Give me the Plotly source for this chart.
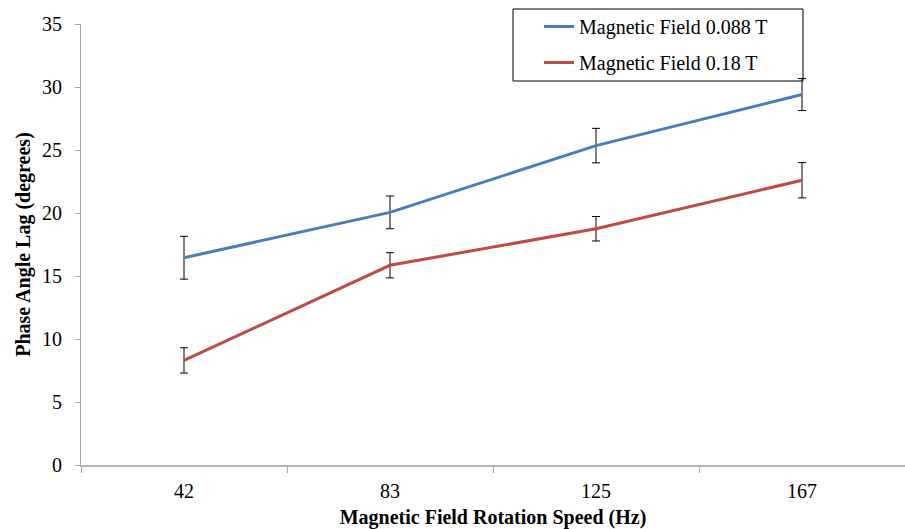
import plotly.graph_objects as go

categories = ["42", "83", "125", "167"]
field_0088 = [16.45, 20.05, 25.35, 29.4]
err_0088 = [1.7, 1.3, 1.37, 1.27]
field_018 = [8.3, 15.85, 18.75, 22.6]
err_018 = [1.0, 1.0, 0.97, 1.4]
series_names = ["Magnetic Field 0.088 T", "Magnetic Field 0.18 T"]
y_ticks = [0, 5, 10, 15, 20, 25, 30, 35]

FONT = "Liberation Serif"

fig = go.Figure()
fig.add_trace(go.Scatter(
    x=categories, y=field_0088, mode="lines", name=series_names[0],
    line=dict(color="#4a7ebb", width=3), legendgroup="a",
    error_y=dict(type="data", array=err_0088, visible=True,
                 color="#000000", thickness=1, width=4),
))
fig.add_trace(go.Scatter(
    x=categories, y=field_018, mode="lines", name=series_names[1],
    line=dict(color="#be4b48", width=3), legendgroup="b",
    error_y=dict(type="data", array=err_018, visible=True,
                 color="#000000", thickness=1, width=4),
))

W, H = 905, 529
L, R, T, B = 81, 0, 24, 64
pw, ph = W - L - R, H - T - B

def px_x(x):
    return (x - L) / pw

def px_y(y):
    return (H - B - y) / ph

fig.add_shape(type="rect", xref="paper", yref="paper",
              x0=px_x(513), x1=px_x(803), y0=px_y(81), y1=px_y(9),
              line=dict(color="#000000", width=1), fillcolor="rgba(0,0,0,0)")

fig.update_layout(
    width=W, height=H,
    margin=dict(l=L, r=R, t=T, b=B, autoexpand=False),
    paper_bgcolor="white", plot_bgcolor="white",
    font=dict(family=FONT, size=20, color="#000000"),
    showlegend=True,
    legend=dict(x=px_x(539), y=px_y(7), xanchor="left", yanchor="top",
                bgcolor="rgba(0,0,0,0)", borderwidth=0,
                traceorder="grouped", tracegroupgap=7,
                font=dict(family=FONT, size=20, color="#000000")),
    xaxis=dict(
        type="category", range=[-0.5, 3.5],
        tickson="boundaries", ticks="outside", ticklen=6, tickcolor="#a6a6a6",
        showline=True, linecolor="#b3b3b3", linewidth=2,
        showgrid=False, zeroline=False, ticklabelstandoff=7,
        tickfont=dict(family=FONT, size=20),
        title=dict(text="<b>Magnetic Field Rotation Speed (Hz)</b>",
                   font=dict(family=FONT, size=20), standoff=9),
    ),
    yaxis=dict(
        range=[0, 35], tickvals=y_ticks, ticks="outside", ticklen=5,
        tickcolor="#a6a6a6", showline=True, linecolor="#a6a6a6", linewidth=1,
        showgrid=False, zeroline=False, ticklabelstandoff=9,
        tickfont=dict(family=FONT, size=20),
        title=dict(text="<b>Phase Angle Lag (degrees)</b>",
                   font=dict(family=FONT, size=20), standoff=6),
    ),
)

fig.write_html("out.html")
